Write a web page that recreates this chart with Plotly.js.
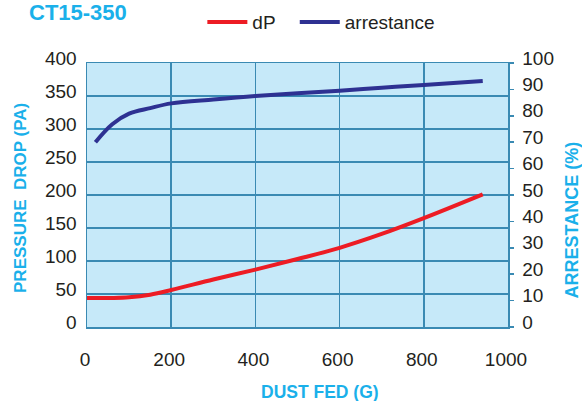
<!DOCTYPE html>
<html>
<head>
<meta charset="utf-8">
<script src="https://cdn.plot.ly/plotly-3.0.1.min.js"></script>
<style>html,body{margin:0;padding:0;background:#fff;}#chart{width:582px;height:401px;}</style>
</head>
<body>
<div id="chart"></div>
<script>
// Data
var dustFedDP = [0, 60, 100, 150, 200, 300, 400, 500, 600, 700, 800, 940];
var pressureDrop = [44, 44, 45, 49, 56, 72, 87, 103, 120, 141, 165, 201];
var dustFedAr = [20, 60, 100, 150, 200, 300, 400, 500, 600, 700, 800, 940];
var arrestance = [70, 76.8, 80.8, 82.9, 84.7, 86.2, 87.5, 88.5, 89.5, 90.6, 91.7, 93.2];
var xTicks = [0, 200, 400, 600, 800, 1000];
var yTicksLeft = [0, 50, 100, 150, 200, 250, 300, 350, 400];
var yTicksRight = [0, 10, 20, 30, 40, 50, 60, 70, 80, 90, 100];

var FONT = "Liberation Sans, Arial, sans-serif";
var TXT = "#231f20";
var CYAN = "#1ab0ea";
var GRID = "#3a8ab3";

var traces = [
  {x: dustFedDP, y: pressureDrop, name: "dP", type: "scatter", mode: "lines",
   line: {color: "#ed1c24", width: 4, shape: "spline"}, yaxis: "y", legend: "legend"},
  {x: dustFedAr, y: arrestance, name: "arrestance", type: "scatter", mode: "lines",
   line: {color: "#2e3192", width: 4, shape: "spline"}, yaxis: "y2", legend: "legend2"}
];

var legendBase = {orientation: "h", xanchor: "left", y: 1.155, yanchor: "middle",
                  font: {family: FONT, size: 19, color: TXT}, bgcolor: "rgba(0,0,0,0)",
                  itemwidth: 40};

var layout = {
  width: 582, height: 401,
  margin: {l: 87, r: 74, t: 63, b: 74, autoexpand: false},
  paper_bgcolor: "#ffffff",
  plot_bgcolor: "#c6e9f9",
  font: {family: FONT, size: 19, color: TXT},
  showlegend: true,
  legend: Object.assign({}, legendBase, {x: 0.274}),
  legend2: Object.assign({}, legendBase, {x: 0.4935}),
  xaxis: {range: [0, 1000], tickvals: xTicks, ticktext: xTicks.map(String),
          showgrid: true, gridcolor: GRID, gridwidth: 1.5,
          showline: true, linecolor: GRID, linewidth: 1.5, mirror: true,
          zeroline: false, ticks: "", ticklabelstandoff: 15, ticklabelshift: -2,
          tickfont: {family: FONT, size: 19, color: TXT}, fixedrange: true},
  yaxis: {range: [0, 400], tickvals: yTicksLeft, ticktext: yTicksLeft.map(String),
          showgrid: true, gridcolor: GRID, gridwidth: 1.5,
          showline: true, linecolor: GRID, linewidth: 1.5, mirror: true,
          zeroline: false, ticks: "", ticklabelstandoff: 5, ticklabelshift: -5,
          tickfont: {family: FONT, size: 19, color: TXT}, fixedrange: true},
  yaxis2: {range: [0, 100], tickvals: yTicksRight, ticktext: yTicksRight.map(String),
           overlaying: "y", side: "right", showgrid: false, zeroline: false,
           showline: true, linecolor: GRID, linewidth: 1.5,
           ticks: "outside", ticklen: 4, tickwidth: 1.5, tickcolor: GRID,
           ticklabelstandoff: 5, ticklabelshift: -5,
           tickfont: {family: FONT, size: 19, color: TXT}, fixedrange: true},
  annotations: [
    {text: "<b>CT15-350</b>", xref: "paper", yref: "paper", x: -0.142, xanchor: "left",
     y: 1.192, yanchor: "middle", showarrow: false, font: {family: FONT, size: 22, color: CYAN}},
    {text: "<b>DUST FED (G)</b>", xref: "paper", yref: "paper", x: 0.553, xanchor: "center",
     y: -0.248, yanchor: "middle", showarrow: false, font: {family: FONT, size: 17.5, color: CYAN}},
    {text: "<b>PRESSURE  DROP (PA)</b>", xref: "paper", yref: "paper", x: -0.158, xanchor: "center",
     y: 0.4905, yanchor: "middle", textangle: -90, showarrow: false, font: {family: FONT, size: 17, color: CYAN}},
    {text: "<b>ARRESTANCE (%)</b>", xref: "paper", yref: "paper", x: 1.153, xanchor: "center",
     y: 0.405, yanchor: "middle", textangle: -90, showarrow: false, font: {family: FONT, size: 18, color: CYAN}}
  ]
};

Plotly.newPlot("chart", traces, layout, {staticPlot: true, displayModeBar: false});
</script>
</body>
</html>
